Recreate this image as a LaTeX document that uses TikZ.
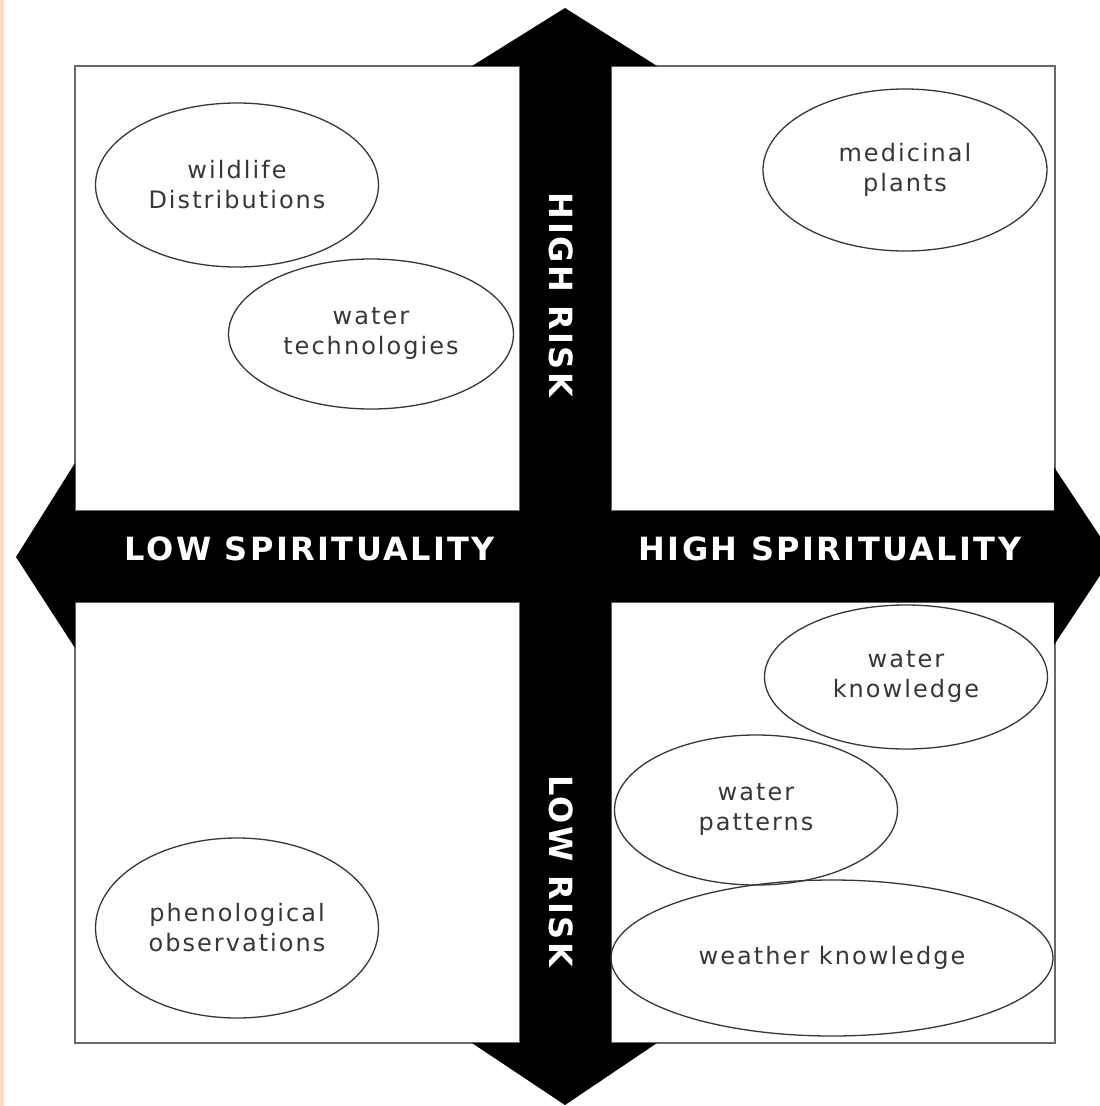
\documentclass[tikz,border=0pt]{standalone}
\usepackage{fontspec}
\setmainfont{DejaVu Sans}
\usetikzlibrary{shapes.geometric}
\definecolor{peach}{RGB}{252,224,190}
\definecolor{boxgray}{RGB}{105,105,105}
\definecolor{inkgray}{RGB}{55,55,55}

\begin{document}
\begin{tikzpicture}[x=1pt,y=-1pt,
                quad/.style={draw=boxgray,line width=2.5pt,fill=white},
                bubble/.style={ellipse,draw=inkgray,line width=1.3pt,inner sep=0pt,align=center,text=inkgray,
                    font=\fontsize{24}{30}\selectfont\addfontfeature{LetterSpace=8.5}},
                axis label/.style={text=white,font=\fontsize{32}{36}\selectfont\bfseries\addfontfeature{LetterSpace=7.5}},
                ]
                \useasboundingbox (0,0) rectangle (1100,1106);
                \clip (0,0) rectangle (1100,1106);
                \fill[peach] (0,0) rectangle (4,1106);

                % quadrants
                \draw[quad] (75,66) rectangle (520,511);
                \draw[quad] (611,66) rectangle (1055,511);
                \draw[quad] (75,602) rectangle (520,1043);
                \draw[quad] (611,602) rectangle (1055,1043);

                % the two block arrows
                \fill (565,8) -- (657,66) -- (611,66) -- (611,1043) -- (657,1043) -- (565,1105)
                    -- (472,1043) -- (520,1043) -- (520,66) -- (472,66) -- cycle;
                \fill (16,557) -- (75,463) -- (75,511) -- (1054,511) -- (1054,467) -- (1113,556)
                    -- (1054,645) -- (1054,602) -- (75,602) -- (75,648) -- cycle;

                \node[axis label] (lowsp) at (310,549) {LOW SPIRITUALITY};
                \node[axis label] (highsp) at (830,549) {HIGH SPIRITUALITY};
                \node[axis label,rotate=-90] (highrisk) at (561,295) {HIGH RISK};
                \node[axis label,rotate=-90] (lowrisk) at (561,871) {LOW RISK};

                \node[bubble,minimum width=283,minimum height=164] (wildlife) at (237,185) {wildlife\\Distributions};
                \node[bubble,minimum width=285,minimum height=150] (watertech) at (371,334) {water\\technologies};
                \node[bubble,minimum width=284,minimum height=162] (medicinal) at (905,170) {medicinal\\plants};
                \node[bubble,minimum width=283,minimum height=144] (waterknow) at (906,677) {water\\knowledge};
                \node[bubble,minimum width=283,minimum height=150] (waterpat) at (756,810) {water\\patterns};
                \node[bubble,minimum width=442,minimum height=156] (weather) at (832,958) {weather knowledge};
                \node[bubble,minimum width=283,minimum height=180] (pheno) at (237,928) {phenological\\observations};
            \end{tikzpicture}
\end{document}
